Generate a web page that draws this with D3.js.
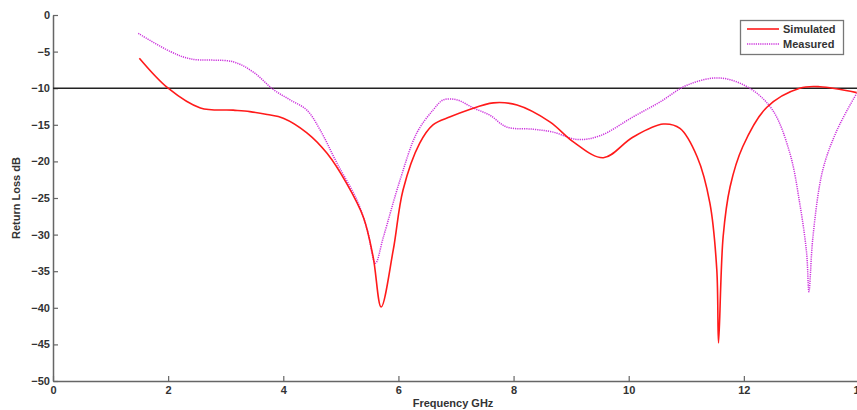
<!DOCTYPE html>
<html><head><meta charset="utf-8">
<script src="https://cdn.jsdelivr.net/npm/d3@7"></script>
<style>body{margin:0;background:#fff;}svg{display:block;}</style>
</head><body>
<svg id="c" width="857" height="410"></svg>
<script>
const xTicks = [0,2,4,6,8,10,12,14];
const yTicks = [0,-5,-10,-15,-20,-25,-30,-35,-40,-45,-50];
const simFreq = [1.5,2.0,2.56,3.13,3.42,3.72,4.0,4.41,4.76,5.1,5.39,5.56,5.70,5.91,6.08,6.37,6.6,6.9,7.2,7.65,8.06,8.63,9.05,9.56,10.07,10.6,10.89,11.19,11.41,11.53,11.56,11.64,11.76,11.98,12.4,12.97,13.32,13.96];
const simDb   = [-5.9,-10.0,-12.7,-13.0,-13.2,-13.6,-14.1,-16.1,-18.9,-23.0,-27.6,-33.0,-39.9,-32.1,-23.9,-17.5,-15.0,-13.9,-13.0,-12.0,-12.3,-14.6,-17.4,-19.5,-16.7,-14.9,-15.5,-19.4,-25.7,-34.8,-44.8,-30.3,-23.5,-18.0,-12.6,-10.0,-9.8,-10.6];
const measFreq = [1.48,2.04,2.39,3.13,3.48,3.83,4.12,4.41,4.64,4.93,5.28,5.46,5.6,5.74,6.03,6.32,6.6,6.78,7.02,7.3,7.59,7.88,8.34,8.69,9.1,9.5,10.08,10.54,11.01,11.58,12.1,12.5,12.8,12.97,13.09,13.13,13.2,13.37,13.62,13.96];
const measDb   = [-2.5,-5.0,-6.0,-6.4,-7.8,-10.2,-11.6,-13.0,-15.7,-20.2,-25.3,-29.4,-33.9,-30.3,-22.5,-16.1,-13.0,-11.6,-11.6,-12.7,-13.7,-15.3,-15.6,-16.0,-17.0,-16.5,-13.9,-11.9,-9.6,-8.6,-10.0,-13.0,-18.9,-25.7,-32.5,-37.8,-30.3,-21.2,-15.7,-10.7];
const refLevel = -10;
const seriesNames = ["Simulated","Measured"];

const svg = d3.select("#c");
const x = d3.scaleLinear().domain([0,14]).range([53, 859]);
const y = d3.scaleLinear().domain([-50,0]).range([381, 15]);
const font = "Arial, 'Liberation Sans', sans-serif";

// axes
const xAxis = d3.axisBottom(x).tickValues(xTicks).tickSizeInner(-5).tickSizeOuter(0).tickPadding(5);
const yAxis = d3.axisLeft(y).tickValues(yTicks).tickSizeInner(-5).tickSizeOuter(0).tickPadding(5);
const gx = svg.append("g").attr("transform","translate(0,381)").call(xAxis);
const gy = svg.append("g").attr("transform","translate(53,0)").call(yAxis);
[gx,gy].forEach(g=>{
  g.select(".domain").attr("stroke","#666").attr("stroke-width",1.5);
  g.selectAll(".tick line").attr("stroke","#666").attr("stroke-width",1.2);
  g.selectAll(".tick text").attr("fill","#333").attr("font-family",font).attr("font-weight","bold").attr("font-size",11);
});
gy.selectAll(".tick text").attr("dx", 2);

// reference line
svg.append("line").attr("x1",x(0)).attr("x2",x(14)).attr("y1",y(refLevel)).attr("y2",y(refLevel))
  .attr("stroke","#222").attr("stroke-width",1.6);

const line = d3.line().x(d=>x(d[0])).y(d=>y(d[1])).curve(d3.curveCatmullRom.alpha(0.5));
const sim = simFreq.map((f,i)=>[f,simDb[i]]);
const meas = measFreq.map((f,i)=>[f,measDb[i]]);
svg.append("path").datum(meas).attr("d",line).attr("fill","none")
  .attr("stroke","#cc33dd").attr("stroke-width",1.5).attr("stroke-dasharray","1.2,1");
svg.append("path").datum(sim).attr("d",line).attr("fill","none")
  .attr("stroke","#ff1a1a").attr("stroke-width",1.6);

// axis labels
svg.append("text").attr("x",453).attr("y",407).attr("text-anchor","middle")
  .attr("font-family",font).attr("font-weight","bold").attr("font-size",11).attr("fill","#333").text("Frequency GHz");
svg.append("text").attr("transform","translate(20,198) rotate(-90)").attr("text-anchor","middle")
  .attr("font-family",font).attr("font-weight","bold").attr("font-size",11).attr("fill","#333").text("Return Loss dB");

// legend
const lg = svg.append("g");
lg.append("rect").attr("x",740.5).attr("y",20.5).attr("width",103).attr("height",34)
  .attr("fill","#fff").attr("stroke","#777").attr("stroke-width",1.3);
lg.append("line").attr("x1",747).attr("x2",779).attr("y1",29).attr("y2",29).attr("stroke","#ff1a1a").attr("stroke-width",1.6);
lg.append("line").attr("x1",747).attr("x2",779).attr("y1",44).attr("y2",44).attr("stroke","#cc33dd").attr("stroke-width",1.5).attr("stroke-dasharray","1.2,1");
lg.selectAll("text.lt").data(seriesNames).enter().append("text")
  .attr("x",783).attr("y",(d,i)=>33+i*14.5)
  .attr("font-family",font).attr("font-weight","bold").attr("font-size",11).attr("fill","#333").text(d=>d);
</script>
</body></html>
